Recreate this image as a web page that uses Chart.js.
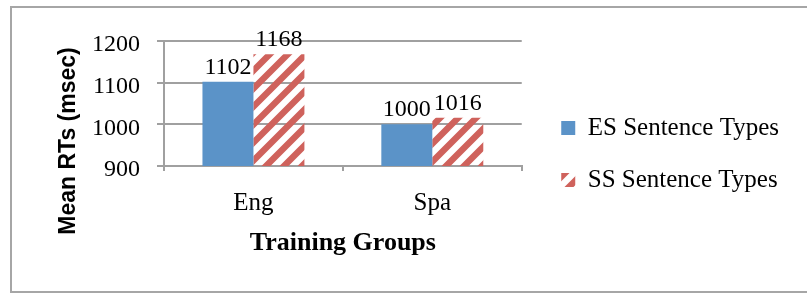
<!DOCTYPE html>
<html lang="en">
<head>
  <meta charset="UTF-8" />
  <title>Mean RTs by Training Group</title>
  <script src="https://cdn.jsdelivr.net/npm/chart.js"></script>
  <style>
    body {
      margin: 0;
      background: #fff;
    }

    .frame {
      position: absolute;
      left: 10px;
      top: 6px;
      width: 800px;
      height: 283px;
      border: 2px solid #a6a6a6;
    }

    canvas {
      position: absolute;
      left: 0;
      top: 0;
    }
  </style>
</head>
<body>
  <div class="frame"></div>
  <canvas id="rtChart" width="807" height="294"></canvas>

  <script>
    // Chart data
    const groups = ['Eng', 'Spa'];
    const esValues = [1102, 1000];
    const ssValues = [1168, 1016];
    const seriesNames = ['ES Sentence Types', 'SS Sentence Types'];
    const yTicks = [900, 1000, 1100, 1200];

    const SERIF = '"Liberation Serif", "Times New Roman", serif';
    const GRID = '#a0a0a0';

    // diagonal stripes, like Excel's wide upward diagonal
    function makeHatch(color, size) {
      const c = document.createElement('canvas');
      c.width = c.height = size;
      const g = c.getContext('2d');
      g.strokeStyle = color;
      g.lineWidth = 6.4;
      g.beginPath();
      g.moveTo(-size / 2, size / 2); g.lineTo(size / 2, -size / 2);
      g.moveTo(0, size); g.lineTo(size, 0);
      g.moveTo(size / 2, size * 1.5); g.lineTo(size * 1.5, size / 2);
      g.stroke();
      return g.createPattern(c, 'repeat');
    }

    // numbers above the bars
    const valueLabels = {
      id: 'valueLabels',
      afterDatasetsDraw(chart) {
        const ctx = chart.ctx;
        ctx.save();
        ctx.font = '24px ' + SERIF;
        ctx.fillStyle = '#000';
        ctx.textAlign = 'center';
        ctx.textBaseline = 'alphabetic';
        chart.data.datasets.forEach((ds, i) => {
          chart.getDatasetMeta(i).data.forEach((bar, j) => {
            ctx.fillText(String(ds.data[j]), bar.x, bar.y - 8);
          });
        });
        ctx.restore();
      }
    };

    // y title sits lower than the plot centre in the original, so draw it here
    const yTitle = {
      id: 'yTitle',
      afterDraw(chart, args, opts) {
        const ctx = chart.ctx;
        ctx.save();
        ctx.translate(opts.x, opts.y);
        ctx.rotate(-Math.PI / 2);
        ctx.font = 'bold 23px "Liberation Sans", Arial, sans-serif';
        ctx.fillStyle = '#000';
        ctx.textAlign = 'center';
        ctx.textBaseline = 'middle';
        ctx.fillText(opts.text, 0, 0);
        ctx.restore();
      }
    };

    const ctx = document.getElementById('rtChart').getContext('2d');

    new Chart(ctx, {
      type: 'bar',
      data: {
        labels: groups,
        datasets: [{
          label: seriesNames[0],
          data: esValues,
          backgroundColor: '#5b93c8',
          borderWidth: 0
        }, {
          label: seriesNames[1],
          data: ssValues,
          backgroundColor: makeHatch('#cf625c', 18),
          borderWidth: 0
        }]
      },
      options: {
        responsive: false,
        animation: false,
        datasets: {
          bar: { categoryPercentage: 0.57, barPercentage: 1 }
        },
        layout: {
          padding: { left: 50, top: 41, right: 18, bottom: 27 }
        },
        scales: {
          x: {
            grid: {
              offset: true,
              drawOnChartArea: false,
              color: GRID,
              lineWidth: 2,
              tickLength: 5
            },
            border: { color: GRID, width: 2 },
            ticks: {
              color: '#000',
              font: { family: SERIF, size: 25 },
              padding: 17
            },
            title: {
              display: true,
              text: 'Training Groups',
              color: '#000',
              font: { family: SERIF, size: 26, weight: 'bold' },
              padding: { top: 0, bottom: 8 }
            },
            afterFit(s) { s.height = 101; }
          },
          y: {
            min: yTicks[0],
            max: yTicks[yTicks.length - 1],
            afterBuildTicks(s) { s.ticks = yTicks.map(v => ({ value: v })); },
            grid: { color: GRID, lineWidth: 2, tickLength: 7 },
            border: { color: GRID, width: 2 },
            ticks: {
              color: '#000',
              font: { family: SERIF, size: 24 },
              padding: 17,
              labelOffset: 4,
              callback: v => String(v)
            },
            afterFit(s) { s.width = 114; }
          },
          // spacer between plot and legend
          y2: {
            position: 'right',
            display: true,
            grid: { display: false, drawTicks: false },
            border: { display: false },
            ticks: { display: false },
            afterFit(s) { s.width = 12.5; }
          }
        },
        plugins: {
          legend: {
            position: 'right',
            maxWidth: 320,
            labels: {
              color: '#000',
              font: { family: SERIF, size: 25 },
              boxWidth: 14,
              boxHeight: 14,
              padding: 27
            }
          },
          tooltip: { enabled: false },
          yTitle: { text: 'Mean RTs (msec)', x: 69, y: 141 }
        }
      },
      plugins: [valueLabels, yTitle]
    });
  </script>
</body>
</html>
